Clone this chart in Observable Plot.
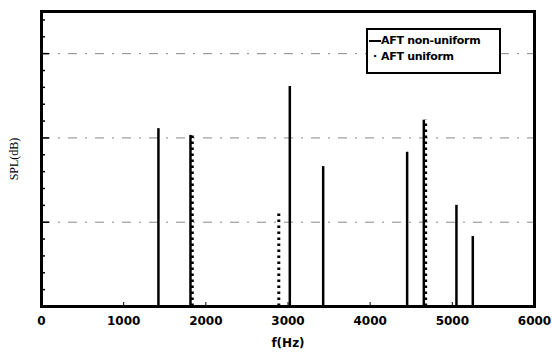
<!DOCTYPE html>
<html><head><meta charset="utf-8">
<script src="https://cdn.jsdelivr.net/npm/d3@7"></script>
<script src="https://cdn.jsdelivr.net/npm/@observablehq/plot@0.6"></script>
<style>
body{margin:0;background:#fff;}
#wrap{position:relative;width:552px;height:357px;}
#legend{position:absolute;left:366px;top:28px;width:131px;height:42px;border:2px solid #000;background:#fff;font:bold 11px "DejaVu Sans",sans-serif;color:#000;}
#legend .row{position:absolute;left:1px;white-space:nowrap;letter-spacing:-0.3px;}
</style></head><body>
<div id="wrap"><div id="legend">
<div class="row" style="top:4px"><span style="display:inline-block;width:12px;border-top:2px solid #000;vertical-align:middle;margin-right:0px"></span>AFT non-uniform</div>
<div class="row" style="top:20px"><span style="display:inline-block;width:12px;text-align:center">·</span>AFT uniform</div>
</div></div>
<script>
// AFT non-uniform spikes
const nonUniformFreq = [1423, 1813, 3022, 3428, 4450, 4653, 5050, 5249];
const nonUniformSPL  = [21.1, 20.3, 26.1, 16.6, 18.3, 22.1, 12.0, 8.3];
// AFT uniform spikes
const uniformFreq = [1835, 2888, 4675];
const uniformSPL  = [20.3, 11.0, 22.1];
const xTicks = [0, 1000, 2000, 3000, 4000, 5000, 6000];
const yMajor = [10, 20, 30];
const xDomain = [0, 6000];
const yDomain = [0, 35];

const nonUni = nonUniformFreq.map((f, i) => ({f, v: nonUniformSPL[i]}));
const uni = uniformFreq.map((f, i) => ({f, v: uniformSPL[i]}));
const yMinor = d3.range(0, 35.01, 2).filter(v => !yMajor.includes(v));

const chart = Plot.plot({
  width: 552, height: 357,
  marginLeft: 41, marginRight: 18, marginTop: 11, marginBottom: 51,
  style: {fontFamily: "'DejaVu Sans', sans-serif", fontSize: "12px", fontWeight: "bold", color: "#000"},
  x: {domain: xDomain},
  y: {domain: yDomain},
  marks: [
    Plot.gridY(yMajor, {stroke: "#888", strokeOpacity: 1, strokeWidth: 1, strokeDasharray: "9,8,2,8"}),
    Plot.ruleX(nonUni, {x: "f", y1: 0, y2: "v", stroke: "#000", strokeWidth: 2.5}),
    Plot.ruleX(uni, {x: "f", y1: 0, y2: "v", stroke: "#000", strokeWidth: 3, strokeDasharray: "2.5,3.5"}),
    Plot.axisX({ticks: xTicks, tickSize: -4, tickPadding: 14, stroke: "#000", strokeOpacity: 1, fill: "#000", tickFormat: d => String(d), label: "f(Hz)", labelAnchor: "center", labelArrow: "none", labelOffset: 40}),
    Plot.axisY({ticks: yMinor, tickSize: -4, stroke: "#000", strokeOpacity: 1, strokeWidth: 1.5, tickFormat: () => "", label: null}),
    Plot.axisY({ticks: yMajor, tickSize: -8, stroke: "#000", strokeOpacity: 1, strokeWidth: 1.5, tickFormat: () => "", label: null}),
    Plot.axisY({ticks: [], label: "SPL(dB)", labelAnchor: "center", labelArrow: "none", labelOffset: 32, fill: "#000", fontFamily: "'Liberation Serif', 'Times New Roman', serif", fontWeight: "normal", fontSize: 12}),
    Plot.frame({stroke: "#000", strokeOpacity: 1, strokeWidth: 3})
  ]
});
document.getElementById("wrap").prepend(chart);
</script>
</body></html>
